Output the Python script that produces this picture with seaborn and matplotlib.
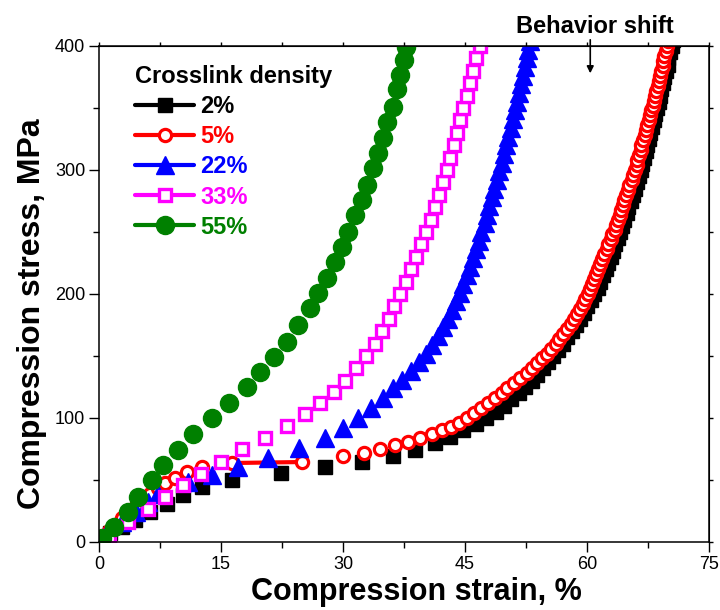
import matplotlib
matplotlib.use("Agg")
import matplotlib.pyplot as plt
from matplotlib.lines import Line2D
from matplotlib.ticker import MultipleLocator
import seaborn as sns

sns.set_style("ticks")
plt.rcParams["font.family"] = ["Liberation Sans", "DejaVu Sans"]
for k in ["text.color", "axes.labelcolor", "xtick.color", "ytick.color",
          "axes.edgecolor"]:
    plt.rcParams[k] = "black"

# readings (strain %, stress MPa)
labels = ["2%", "5%", "22%", "33%", "55%"]
colors = ["#000000", "#ff0000", "#0000ff", "#ff00ff", "#008000"]

stress_2 = [0, 7, 12, 18, 24, 31, 38, 44, 50, 55.6, 60.5, 64.5, 69, 74, 80,
            85, 90, 95, 100, 105, 110, 115, 120, 125, 130, 135, 140, 145, 150,
            155, 160, 165, 170, 175, 180, 185, 190, 195, 200, 205, 210, 215,
            220, 225, 230, 235, 240, 245, 250, 255, 260, 265, 270, 275, 280,
            285, 290, 295, 300, 305, 310, 315, 320, 325, 330, 335, 340, 345,
            350, 355, 360, 365, 370, 375, 380, 385, 390, 395, 400, 405]
strain_2 = [0, 1.4, 2.8, 4.4, 6.3, 8.4, 10.3, 12.7, 16.4, 22.4, 27.8, 32.3,
            36.1, 38.9, 41.3, 43.2, 44.8, 46.3, 47.6, 48.8, 49.8, 50.7, 51.6,
            52.4, 53.2, 53.9, 54.6, 55.2, 55.8, 56.4, 57.0, 57.6, 58.1, 58.6,
            59.1, 59.6, 60.0, 60.5, 60.9, 61.3, 61.6, 62.0, 62.3, 62.6, 62.9,
            63.2, 63.5, 63.8, 64.0, 64.3, 64.6, 64.9, 65.1, 65.4, 65.6, 65.9,
            66.1, 66.4, 66.6, 66.8, 67.0, 67.2, 67.4, 67.6, 67.8, 68.0, 68.2,
            68.4, 68.6, 68.8, 69.0, 69.1, 69.3, 69.5, 69.7, 69.9, 70.0, 70.2,
            70.4, 70.6]

stress_5 = [0, 4, 9, 14, 19, 24, 29, 34, 39, 43.5, 47.5, 51.6, 56.5, 60.5,
            63.7, 64.5, 69, 72, 75, 78, 81, 84, 87, 90, 93, 96, 100, 104, 108,
            112, 116, 120, 124, 128, 132, 136, 140, 144, 148, 152, 156, 160,
            164, 168, 172, 176, 180, 184, 188, 192, 196, 200, 204, 208, 212,
            216, 220, 224, 228, 232, 236, 240, 244, 248, 252, 256, 260, 264,
            268, 272, 276, 280, 284, 288, 292, 296, 300, 304, 308, 312, 316,
            320, 324, 328, 332, 336, 340, 344, 348, 352, 356, 360, 364, 368,
            372, 376, 380, 384, 388, 392, 396, 400, 404]
strain_5 = [0, 0.5, 1.2, 2.0, 2.8, 3.6, 4.5, 5.4, 6.3, 7.2, 8.1, 9.3, 10.8,
            12.7, 16.4, 25.0, 30.0, 32.6, 34.6, 36.4, 38.0, 39.5, 40.9, 42.2,
            43.3, 44.3, 45.3, 46.1, 47.0, 47.8, 48.7, 49.5, 50.2, 51.0, 51.8,
            52.6, 53.2, 53.9, 54.5, 55.1, 55.6, 56.2, 56.6, 57.1, 57.5, 58.0,
            58.4, 58.8, 59.1, 59.5, 59.8, 60.1, 60.4, 60.6, 60.9, 61.1, 61.4,
            61.6, 61.9, 62.1, 62.4, 62.6, 62.9, 63.1, 63.4, 63.6, 63.8, 64.0,
            64.2, 64.4, 64.6, 64.8, 65.0, 65.2, 65.5, 65.7, 65.9, 66.1, 66.2,
            66.4, 66.6, 66.7, 66.9, 67.1, 67.3, 67.4, 67.6, 67.8, 67.9, 68.1,
            68.2, 68.4, 68.5, 68.7, 68.8, 69.0, 69.1, 69.3, 69.4, 69.5, 69.7,
            69.8, 69.9]

stress_22 = [0, 8, 16, 24, 32, 39, 48, 54, 60.5, 68, 76, 84, 92, 100, 108,
             116, 124, 131, 138, 145, 152, 159, 166, 173, 180, 187, 194, 201,
             208, 215, 222, 229, 236, 243, 250, 257, 264, 271, 278, 285, 292,
             299, 306, 313, 320, 327, 334, 341, 348, 355, 362, 369, 376, 383,
             390, 397, 404]
strain_22 = [0, 1.0, 2.8, 4.5, 6.0, 7.3, 10.9, 13.9, 17.1, 20.8, 24.6, 27.8,
             30.0, 31.9, 33.5, 34.9, 36.1, 37.3, 38.3, 39.3, 40.2, 41.0, 41.7,
             42.3, 42.9, 43.4, 43.9, 44.4, 44.8, 45.2, 45.6, 46.0, 46.3, 46.7,
             47.0, 47.4, 47.7, 48.0, 48.3, 48.6, 48.9, 49.2, 49.5, 49.8, 50.1,
             50.3, 50.6, 50.9, 51.1, 51.4, 51.6, 51.9, 52.1, 52.4, 52.6, 52.8,
             53.0]

stress_33 = [0, 5, 16, 27, 36, 46, 55, 64.5, 75, 84, 93.5, 103, 112, 121,
             130, 140, 150, 160, 170, 180, 190, 200, 210, 220, 230, 240, 250,
             260, 270, 280, 290, 300, 310, 320, 330, 340, 350, 360, 370, 380,
             390, 400, 410]
strain_33 = [0, 1.2, 3.6, 6.0, 8.1, 10.3, 12.5, 15.0, 17.6, 20.4, 23.1, 25.3,
             27.2, 28.9, 30.3, 31.6, 32.8, 33.9, 34.8, 35.6, 36.3, 37.0, 37.7,
             38.4, 39.0, 39.6, 40.2, 40.8, 41.3, 41.8, 42.3, 42.8, 43.2, 43.6,
             44.0, 44.4, 44.8, 45.2, 45.6, 46.0, 46.4, 46.8, 47.2]

stress_55 = [0, 3, 12, 24, 36, 50, 62, 74, 87, 100, 112, 125, 137, 149, 161,
             175, 189, 201, 213, 226, 238, 250, 264, 276, 288, 302, 314, 326,
             339, 351, 365, 377, 389, 399, 411]
strain_55 = [0, 0.4, 1.9, 3.6, 4.8, 6.5, 7.9, 9.7, 11.6, 13.9, 16.0, 18.2,
             19.8, 21.5, 23.1, 24.5, 25.9, 26.9, 28.0, 29.0, 29.9, 30.6, 31.5,
             32.3, 33.0, 33.7, 34.3, 34.9, 35.4, 36.1, 36.6, 37.0, 37.5, 37.8,
             38.1]

# the only connecting line that shows in the original: 5% between 16 and 25 %
gap_5 = slice(14, 16)

series = [
    (strain_2, stress_2, dict(marker="s", markersize=9.5, markeredgewidth=1,
                              markerfacecolor=colors[0])),
    (strain_5, stress_5, dict(marker="o", markersize=8.8, markeredgewidth=2.3,
                              markerfacecolor="white")),
    (strain_22, stress_22, dict(marker="^", markersize=13.5, markeredgewidth=1,
                                markerfacecolor=colors[2])),
    (strain_33, stress_33, dict(marker="s", markersize=8.3, markeredgewidth=2.4,
                                markerfacecolor="white")),
    (strain_55, stress_55, dict(marker="o", markersize=13, markeredgewidth=1,
                                markerfacecolor=colors[4])),
]

fig = plt.figure(figsize=(7.2, 6.1), dpi=100)
ax = fig.add_axes([99 / 720, 68 / 610, 610 / 720, 496 / 610])

handles = []
for i, ((x, y, mk), lab, c) in enumerate(zip(series, labels, colors)):
    if i == 1:
        sns.lineplot(x=x[gap_5], y=y[gap_5], sort=False, estimator=None,
                     ax=ax, color=c, linewidth=3, legend=False)
    sns.lineplot(x=x, y=y, sort=False, estimator=None, ax=ax, color=c,
                 linestyle="none", markeredgecolor=c, legend=False, **mk)
    handles.append(Line2D([], [], color=c, linewidth=3, markeredgecolor=c,
                          label=lab, **mk))

ax.set_xlim(0, 75)
ax.set_ylim(0, 400)
ax.xaxis.set_major_locator(MultipleLocator(15))
ax.xaxis.set_minor_locator(MultipleLocator(7.5))
ax.yaxis.set_major_locator(MultipleLocator(100))
ax.yaxis.set_minor_locator(MultipleLocator(50))
ax.tick_params(which="major", direction="out", length=7, width=1,
               labelsize=13, pad=3)
ax.tick_params(which="minor", direction="out", length=4.5, width=1)
for s in ax.spines.values():
    s.set_linewidth(1.1)
    s.set_visible(True)

top = ax.secondary_xaxis("top")
top.xaxis.set_major_locator(MultipleLocator(7.5))
top.tick_params(direction="out", length=3, width=1, labeltop=False)
right = ax.secondary_yaxis("right")
right.yaxis.set_major_locator(MultipleLocator(50))
right.tick_params(direction="out", length=3, width=1, labelright=False)

ax.set_xlabel("Compression strain, %", fontsize=22, fontweight="bold",
              labelpad=3)
ax.set_ylabel("Compression stress, MPa", fontsize=23, fontweight="bold",
              labelpad=6)
ax.xaxis.label.set_x(0.52)
ax.yaxis.label.set_y(0.46)

leg = ax.legend(handles=handles, title="Crosslink density", loc="upper left",
                bbox_to_anchor=(0.04, 0.985), frameon=False, borderpad=0,
                prop={"weight": "bold", "size": 17},
                title_fontproperties={"weight": "bold", "size": 17},
                handlelength=2.5, handletextpad=0.25, labelspacing=0.3,
                numpoints=1)
leg._legend_box.align = "left"
for t, c in zip(leg.get_texts(), colors):
    t.set_color(c)

fig.text(595 / 720, 1 - 33 / 610, "Behavior shift", fontsize=17,
         fontweight="bold", ha="center", va="baseline")
ax.annotate("", xy=(60.4, 378), xytext=(60.4, 405), xycoords="data",
            textcoords="data", annotation_clip=False,
            arrowprops=dict(arrowstyle="-|>", color="black", lw=1.2,
                            mutation_scale=10, shrinkA=0, shrinkB=0))

fig.savefig("out.png", dpi=100)
